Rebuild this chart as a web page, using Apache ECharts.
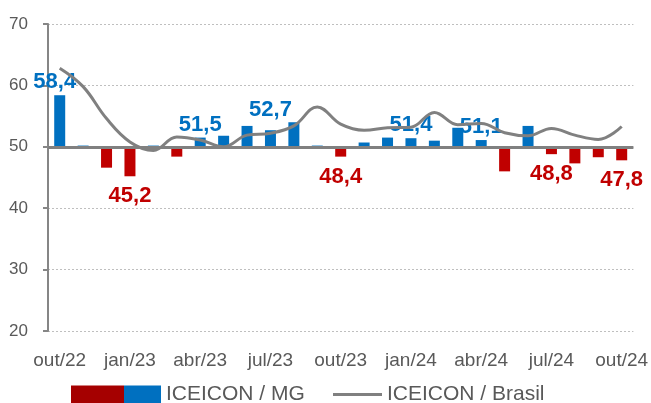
<!DOCTYPE html>
<html lang="pt">
<head>
	<meta charset="UTF-8">
	<title>ICEICON</title>
	<style>
		*{
			margin: 0;
			padding: 0;
		}
		html,body{
			background: #ffffff;
		}
		.box{
			width: 651px;
			height: 403px;
		}
	</style>
	<script src="https://cdn.jsdelivr.net/npm/echarts@6/dist/echarts.min.js"></script>
</head>
<body>
	<div class="box"></div>
	<script>
		// meses out/22 .. out/24
		var months = ['out/22','nov/22','dez/22','jan/23','fev/23','mar/23','abr/23','mai/23','jun/23','jul/23','ago/23','set/23',
			'out/23','nov/23','dez/23','jan/24','fev/24','mar/24','abr/24','mai/24','jun/24','jul/24','ago/24','set/24','out/24'];
		var mgValues = [58.4, 50.2, 46.6, 45.2, 50.2, 48.4, 51.5, 51.8, 53.4, 52.7, 54.0, 50.2,
			48.4, 50.7, 51.5, 51.4, 51.0, 53.1, 51.1, 46.0, 53.4, 48.8, 47.3, 48.3, 47.8];
		var brasilValues = [62.8, 59.8, 54.6, 50.8, 49.4, 51.6, 51.1, 50.0, 51.9, 52.2, 53.4, 56.5,
			53.7, 52.7, 53.1, 53.2, 55.6, 53.6, 53.8, 52.3, 51.8, 53.0, 51.9, 51.2, 53.3];
		var yTicks = [20, 30, 40, 50, 60, 70];
		var baseLine = 50;

		var RED = '#C00000', BLUE = '#0070C0', GREY = '#808080', TXT = '#595959';
		var FONT = "'Liberation Sans', Arial, sans-serif";

		var chart = echarts.init(document.querySelector('.box'));

		function fmt(v) {
			return v.toFixed(1).replace('.', ',');
		}

		var barData = mgValues.map(function (v, i) {
			var neg = v < baseLine;
			var item = {
				value: Math.round((v - baseLine) * 10) / 10,
				itemStyle: { color: neg ? RED : BLUE }
			};
			if (i % 3 === 0) {
				item.label = {
					show: true,
					position: neg ? 'bottom' : 'top',
					distance: neg ? 9 : (i === 9 ? 9 : 2),
					offset: i === 0 ? [-5, 0] : [0, 0],
					color: neg ? RED : BLUE,
					fontSize: 22,
					fontWeight: 'bold',
					fontFamily: FONT,
					formatter: function () { return fmt(v); }
				};
			}
			return item;
		});

		var option = {
			animation: false,
			grid: {
				left: 48,
				right: 12,
				top: 24,
				bottom: 72
			},
			legend: [{
				left: 71,
				top: 384,
				padding: 0,
				itemWidth: 90,
				itemHeight: 18,
				icon: 'rect',
				textStyle: { color: TXT, fontSize: 21, fontFamily: FONT },
				data: [{
					name: 'ICEICON / MG',
					itemStyle: {
						color: new echarts.graphic.LinearGradient(0, 0, 1, 0, [
							{ offset: 0, color: '#A50000' },
							{ offset: 0.59, color: '#A50000' },
							{ offset: 0.59, color: BLUE },
							{ offset: 1, color: BLUE }
						])
					}
				}]
			}, {
				left: 333,
				top: 384,
				padding: 0,
				itemWidth: 49,
				itemHeight: 3,
				icon: 'rect',
				textStyle: { color: TXT, fontSize: 21, fontFamily: FONT },
				data: [{ name: 'ICEICON / Brasil', itemStyle: { color: GREY } }]
			}],
			xAxis: {
				type: 'category',
				data: months,
				boundaryGap: true,
				axisLine: { show: false },
				axisTick: { show: false },
				axisLabel: {
					interval: 2,
					margin: 20,
					color: TXT,
					fontSize: 19,
					fontFamily: FONT
				}
			},
			yAxis: [{
				type: 'value',
				min: yTicks[0],
				max: yTicks[yTicks.length - 1],
				interval: 10,
				axisLine: { show: true, lineStyle: { color: '#868686', width: 2 } },
				axisTick: { show: true, length: 5, lineStyle: { color: '#868686', width: 2 } },
				axisLabel: { margin: 20, color: TXT, fontSize: 17, fontFamily: FONT },
				splitLine: { show: true, lineStyle: { color: '#BFBFBF', type: [2, 2], width: 1 } }
			}, {
				type: 'value',
				min: yTicks[0] - baseLine,
				max: yTicks[yTicks.length - 1] - baseLine,
				show: false,
				splitLine: { show: false }
			}],
			series: [{
				name: 'ICEICON / MG',
				type: 'bar',
				yAxisIndex: 1,
				barWidth: 11,
				data: barData,
				z: 2
			}, {
				name: 'ICEICON / Brasil',
				type: 'line',
				yAxisIndex: 0,
				data: brasilValues,
				smooth: 0.4,
				symbol: 'none',
				lineStyle: { color: GREY, width: 3 },
				itemStyle: { color: GREY },
				markLine: {
					silent: true,
					symbol: 'none',
					label: { show: false },
					lineStyle: { color: GREY, width: 3, type: 'solid' },
					data: [{ yAxis: baseLine }]
				},
				z: 3
			}]
		};
		chart.setOption(option);
	</script>
</body>
</html>
